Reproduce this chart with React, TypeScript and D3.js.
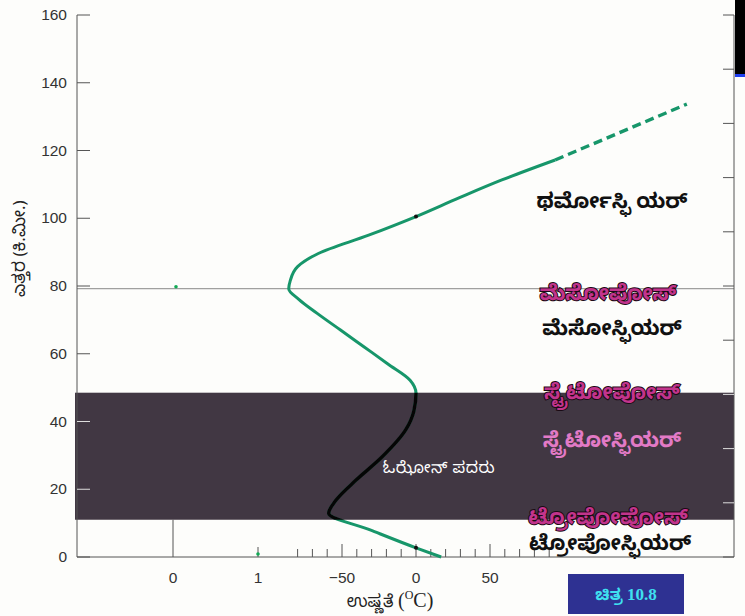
import React from 'react';
import * as d3 from 'd3';

// altitude (km) and temperature (°C)
const altitudes = [0, 2.7, 8, 12.9, 16.8, 22.7, 29.5, 37.5, 43, 48.4, 52.2, 57, 62, 67, 72, 76, 79.2, 81.5, 85.7, 89.6, 95, 100.5, 106, 111.3, 117.2];
const temps = [17, 0, -31, -59, -54, -40.5, -23, -7, -1.5, 0, -4, -19, -35, -51, -67, -79, -86, -85, -80, -66, -32, 0, 29, 58, 94];
const dashedAltitudes = [117.2, 133.7];
const dashedTemps = [94, 183];
const zeroMarks = [2.7, 100.5];

const yTicks = [0, 20, 40, 60, 80, 100, 120, 140, 160];
const tempTicks = [-50, 0, 50];
const tempMinor = [-80, -70, -60, -50, -40, -30, -20, -10, 0, 10, 20, 30, 40, 50, 60, 70, 80, 90];
const leftTicks = ['0', '1'];
const rightTicks = [0, 1, 2, 3, 4, 5, 6, 7, 8, 9, 10];

const bandTop = 48.5;
const bandBottom = 11;
const mesopause = 79.2;

const layers = [
  { text: 'ಥರ್ಮೋಸ್ಫಿ ಯರ್', alt: 103, cx: 612, kind: 'plain' },
  { text: 'ಮೆಸೋಪೋಸ್', alt: 76, cx: 608, kind: 'pause' },
  { text: 'ಮೆಸೋಸ್ಫಿಯರ್', alt: 65.5, cx: 612, kind: 'plain' },
  { text: 'ಸ್ಟ್ರೆಟೋಪೋಸ್', alt: 46.6, cx: 612, kind: 'pause' },
  { text: 'ಸ್ಟ್ರೆಟೋಸ್ಫಿಯರ್', alt: 32.5, cx: 612, kind: 'pink' },
  { text: 'ಟ್ರೋಪೋಪೋಸ್', alt: 9.7, cx: 608, kind: 'pause' },
  { text: 'ಟ್ರೋಪೋಸ್ಫಿಯರ್', alt: 2, cx: 610, kind: 'plain' },
];

export default function App() {
  const W = 745;
  const H = 616;
  const left = 77;
  const right = 734;

  const y = d3.scaleLinear().domain([0, 160]).range([557, 15]);
  const x = d3.scaleLinear().domain([-50, 50]).range([342, 490]);
  const xLeft = d3.scalePoint<string>().domain(leftTicks).range([173, 258]);
  const yRight = d3.scaleLinear().domain([0, 10]).range([557, 15]);

  // ordered top-down so that screen y increases along the path
  const pts: [number, number][] = altitudes.map((a, i) => [x(temps[i]), y(a)] as [number, number]).reverse();
  const line = d3.line().curve(d3.curveMonotoneY);
  const curve = line(pts) || '';
  const dashPts = dashedAltitudes.map((a, i) => [x(dashedTemps[i]), y(a)] as [number, number]);
  const dashPath = d3.line()(dashPts) || '';

  const axisColor = '#555';
  const green = '#17966a';
  const sans = "'Liberation Sans', Arial, sans-serif";
  const kn = "'Noto Sans', 'Noto Sans Kannada', sans-serif";
  const inBand = (py: number) => py > y(bandTop) && py < y(bandBottom);

  return (
    <div style={{ position: 'absolute', left: 0, top: 0 }}>
      <svg width={W} height={H} style={{ display: 'block', background: '#fdfdfb' }}>
        <defs>
          <clipPath id="band">
            <rect x={left} y={y(bandTop)} width={right - left} height={y(bandBottom) - y(bandTop)} />
          </clipPath>
        </defs>

        {/* dark ozone band */}
        <rect x={left - 2} y={y(bandTop)} width={right - left + 2} height={y(bandBottom) - y(bandTop)} fill="#413743" />

        {/* mesopause guide */}
        <line x1={left} x2={right} y1={y(mesopause)} y2={y(mesopause)} stroke="#888" strokeWidth={1} />
        <circle cx={176} cy={y(mesopause) - 2} r={1.8} fill="#1a5" />

        {/* left axis */}
        <line x1={left} x2={left} y1={y(160)} y2={y(0)} stroke={axisColor} />
        {yTicks.map(t => (
          <g key={t}>
            <line x1={left} x2={left + 13} y1={y(t)} y2={y(t)} stroke={inBand(y(t)) ? '#ddd' : axisColor} />
            <text x={67} y={y(t) + 5} textAnchor="end" fontFamily={sans} fontSize={15.5} fill="#333">{t}</text>
          </g>
        ))}

        {/* right axis */}
        <line x1={right} x2={right} y1={y(160)} y2={y(0)} stroke={axisColor} />
        {rightTicks.map(t => (
          <line key={t} x1={right - 11} x2={right} y1={yRight(t)} y2={yRight(t)}
            stroke={inBand(yRight(t)) ? '#ddd' : axisColor} />
        ))}

        {/* bottom axis */}
        <line x1={left} x2={right} y1={y(0)} y2={y(0)} stroke={axisColor} />
        <line x1={xLeft('0')} x2={xLeft('0')} y1={y(bandBottom)} y2={y(0)} stroke={axisColor} />
        <line x1={xLeft('1')} x2={xLeft('1')} y1={y(0) - 10} y2={y(0)} stroke={axisColor} />
        <circle cx={xLeft('1')} cy={y(0) - 3} r={1.8} fill="#1a5" />
        {leftTicks.map(t => (
          <text key={t} x={xLeft(t)} y={583} textAnchor="middle" fontFamily={sans} fontSize={15.5} fill="#333">{t}</text>
        ))}
        {tempMinor.map(t => (
          <line key={t} x1={x(t)} x2={x(t)} y1={y(0) - (t % 50 === 0 ? 13 : 8)} y2={y(0)} stroke={axisColor} />
        ))}
        {tempTicks.map(t => (
          <text key={t} x={x(t)} y={583} textAnchor="middle" fontFamily={sans} fontSize={15.5} fill="#333">
            {t < 0 ? `\u2212${Math.abs(t)}` : t}
          </text>
        ))}

        {/* temperature curve */}
        <path d={curve} fill="none" stroke={green} strokeWidth={3} />
        <path d={curve} fill="none" stroke="#050505" strokeWidth={3.4} clipPath="url(#band)" />
        <path d={dashPath} fill="none" stroke={green} strokeWidth={3.4} strokeDasharray="9,5" />
        {zeroMarks.map(a => (
          <circle key={a} cx={x(0)} cy={y(a)} r={2} fill="#111" />
        ))}

        {/* layer names */}
        {layers.map(l => (
          <text key={l.text} x={l.cx} y={y(l.alt)} textAnchor="middle" fontFamily={kn}
            fontWeight="bold" fontSize={21}
            fill={l.kind === 'plain' ? '#111' : l.kind === 'pink' ? '#e27ac6' : '#c2348c'}
            stroke={l.kind === 'pause' ? '#1a0a14' : 'none'} strokeWidth={l.kind === 'pause' ? 2 : 0}
            paintOrder="stroke">{l.text}</text>
        ))}
        <text x={439} y={y(24.8)} textAnchor="middle" fontFamily={kn} fontSize={16} letterSpacing={0.5} fill="#fff">ಓಝೋನ್ ಪದರು</text>

        {/* axis titles */}
        <text transform={`translate(25,${y(91)}) rotate(-90)`} textAnchor="middle" fontFamily={kn}
          fontSize={17} fill="#222">ಎತ್ತರ (ಕಿ.ಮೀ.)</text>
        <text x={390} y={607} textAnchor="middle" fill="#222">
          <tspan fontFamily={kn} fontSize={17}>ಉಷ್ಣತೆ </tspan>
          <tspan fontFamily="'Liberation Serif', serif" fontSize={20}>(</tspan>
          <tspan fontFamily="'Liberation Serif', serif" fontSize={12} dy={-8}>O</tspan>
          <tspan fontFamily="'Liberation Serif', serif" fontSize={20} dy={8}>C)</tspan>
        </text>

        {/* figure label */}
        <rect x={568} y={574} width={116} height={40} fill="#2e3192" />
        <text x={626} y={600} textAnchor="middle" fontWeight="bold" fill="#3fe0f0">
          <tspan fontFamily={kn} fontSize={16}>ಚಿತ್ರ </tspan>
          <tspan fontFamily="'Liberation Serif', serif" fontSize={17}> 10.8</tspan>
        </text>

        {/* cropped neighbour page */}
        <rect x={735} y={0} width={10} height={74} fill="#000" />
        <rect x={735} y={74} width={10} height={3} fill="#1f3ff0" />
      </svg>
    </div>
  );
}
